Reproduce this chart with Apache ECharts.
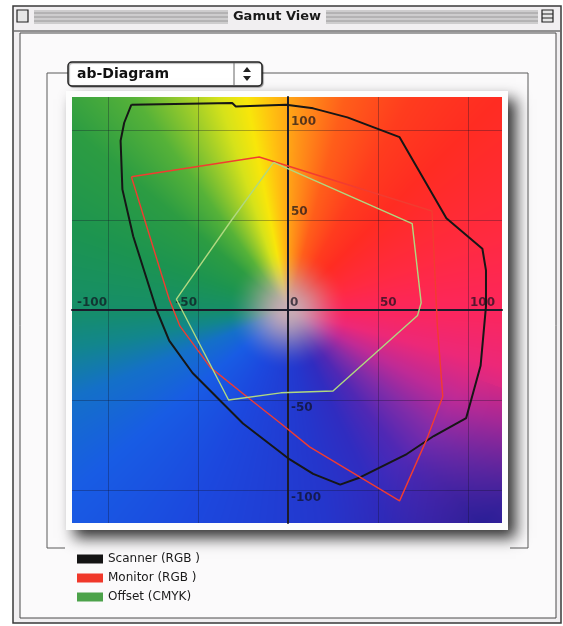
<!DOCTYPE html>
<html><head><meta charset="utf-8">
<script src="https://cdn.jsdelivr.net/npm/echarts@6/dist/echarts.min.js"></script>
<style>html,body{margin:0;padding:0;background:#fff;}#c{width:563px;height:626px;}</style>
</head><body><div id="c"></div>
<script>
// ---- data ----
const xTicks = [-100, -50, 0, 50, 100];
const yTicks = [-100, -50, 50, 100];
const gridVals = [-100, -50, 50, 100];
const seriesNames = ['Scanner (RGB )', 'Monitor (RGB )', 'Offset (CMYK)'];
const scannerPts = [[-87,114],[-31,115],[-29,113],[-1,114],[14,112],[33,107],[62,96],[88,51],[108,34],[110,22],[110,2],[107,-31],[99,-60],[81,-70],[66,-80],[40,-93],[29,-97],[14,-91],[1,-83],[-25,-63],[-53,-35],[-66,-17],[-73,0],[-86,41],[-92,67],[-93,94],[-91,104]];
const monitorPts = [[-87,74],[-16,85],[80,55],[83,-9],[86,-48],[77,-72],[62,-106],[12,-76],[-4,-63],[-23,-48],[-43,-32],[-60,-9],[-66,6]];
const offsetPts = [[-8,82],[69,48],[74,4],[72,-3],[25,-45],[-4,-46],[-33,-50],[-62,6],[-32,49]];

// ---- layout / style ----
const G = {left:72, top:97, width:430, height:426};
const XR = [-120, 118.9], YR = [-118.3, 118.3];
const FONT = "'DejaVu Sans', sans-serif";
const colors = ['#141414', '#f0382a', '#4ca24a'];
const lineColors = ['#161616', '#f23c30', '#b0d880'];

// background a-b plane image (decoration)
const hueStops = [
  [-180,[22,142,104]],[-170,[18,134,140]],[-158,[20,112,200]],[-140,[24,92,228]],[-115,[28,72,222]],
  [-95,[32,62,212]],[-80,[36,54,204]],[-65,[48,44,192]],[-52,[80,40,180]],[-40,[130,44,168]],
  [-28,[190,42,150]],[-15,[236,40,120]],[0,[252,38,92]],[20,[255,42,64]],[45,[255,44,34]],
  [60,[255,60,30]],[75,[255,94,26]],[87,[255,150,24]],[95,[255,194,16]],[101,[248,230,10]],
  [108,[214,226,26]],[116,[156,204,42]],[126,[86,178,56]],[140,[44,156,66]],[160,[28,148,80]],[180,[22,142,104]]
];
function hueColor(ang){
  for(let i=0;i<hueStops.length-1;i++){
    const [a0,c0]=hueStops[i],[a1,c1]=hueStops[i+1];
    if(ang>=a0 && ang<=a1){const t=(ang-a0)/(a1-a0);return [0,1,2].map(k=>c0[k]+(c1[k]-c0[k])*t);}
  }
  return hueStops[0][1];
}
function makeBg(){
  const cv=document.createElement('canvas');cv.width=G.width;cv.height=G.height;
  const ctx=cv.getContext('2d');const img=ctx.createImageData(G.width,G.height);
  const center=[200,172,180], navy=[42,30,150];
  for(let py=0;py<G.height;py++){
    const b=YR[1]-(py+0.5)/G.height*(YR[1]-YR[0]);
    for(let px=0;px<G.width;px++){
      const a=XR[0]+(px+0.5)/G.width*(XR[1]-XR[0]);
      const ang=Math.atan2(b,a)*180/Math.PI;
      let c=hueColor(ang);
      const r=Math.hypot(a,b);
      if(ang<-20 && ang>-80){
        const aw=1-Math.abs(ang+48)/32;
        const d=Math.max(0,Math.min(1,(r-105)/55))*Math.max(0,aw);
        c=c.map((v,k)=>v*(1-d)+navy[k]*d);
      }
      let w=Math.max(0,1-r/34);w=w*w*(3-2*w);
      const i=(py*G.width+px)*4;
      for(let k=0;k<3;k++) img.data[i+k]=Math.round(c[k]*(1-w)+center[k]*w);
      img.data[i+3]=255;
    }
  }
  ctx.putImageData(img,0,0);return cv;
}

const chart = echarts.init(document.getElementById('c'), null, {renderer:'canvas'});

// window chrome (decoration)
const g = [];
g.push({type:'rect',z:-100,shape:{x:13,y:6,width:548,height:617},style:{fill:'#f1eff1',stroke:'#3a3a3a',lineWidth:1.5}});
g.push({type:'rect',z:-99,shape:{x:20,y:33,width:536,height:585},style:{fill:'#fbfafb',stroke:'#4a4a4a',lineWidth:1}});
g.push({type:'line',z:-98,shape:{x1:14,y1:31,x2:560,y2:31},style:{stroke:'#333',lineWidth:1}});
for(let y=11;y<=24;y+=2){
  g.push({type:'line',z:-98,shape:{x1:34,y1:y,x2:228,y2:y},style:{stroke:y%4===1?'#777':'#aaa',lineWidth:1}});
  g.push({type:'line',z:-98,shape:{x1:326,y1:y,x2:538,y2:y},style:{stroke:y%4===1?'#777':'#aaa',lineWidth:1}});
}
g.push({type:'rect',z:-97,shape:{x:17,y:10,width:11,height:12},style:{fill:'#e6e6e6',stroke:'#222',lineWidth:1.2}});
g.push({type:'rect',z:-97,shape:{x:542,y:10,width:11,height:12},style:{fill:'#e6e6e6',stroke:'#222',lineWidth:1.2}});
g.push({type:'line',z:-96,shape:{x1:542,y1:14,x2:553,y2:14},style:{stroke:'#222',lineWidth:1}});
g.push({type:'line',z:-96,shape:{x1:542,y1:18,x2:553,y2:18},style:{stroke:'#222',lineWidth:1}});
g.push({type:'text',z:-96,style:{text:'Gamut View',x:277,y:17,align:'center',verticalAlign:'middle',font:"bold 13px "+FONT,fill:'#1a1a1a'}});
// group box
const gb = {stroke:'#5a5a5a',lineWidth:1,fill:null};
g.push({type:'polyline',z:-95,shape:{points:[[68,73],[47,73],[47,548],[65,548]]},style:gb});
g.push({type:'polyline',z:-95,shape:{points:[[262,73],[528,73],[528,548],[510,548]]},style:gb});
// popup
g.push({type:'rect',z:-94,shape:{x:68,y:62,width:194,height:24,r:4},style:{fill:'#fff',stroke:'#222',lineWidth:1.5,shadowColor:'rgba(0,0,0,0.35)',shadowOffsetX:1,shadowOffsetY:1,shadowBlur:1}});
g.push({type:'line',z:-93,shape:{x1:234,y1:63,x2:234,y2:85},style:{stroke:'#666',lineWidth:1}});
g.push({type:'text',z:-93,style:{text:'ab-Diagram',x:77,y:74,verticalAlign:'middle',font:"bold 14px "+FONT,fill:'#111'}});
g.push({type:'polygon',z:-93,shape:{points:[[243,72],[251,72],[247,67]]},style:{fill:'#222'}});
g.push({type:'polygon',z:-93,shape:{points:[[243,76],[251,76],[247,81]]},style:{fill:'#222'}});
// plot frame with shadow
g.push({type:'rect',z:-92,shape:{x:66,y:91,width:442,height:439},style:{fill:'#fdfdfd',shadowColor:'rgba(0,0,0,0.8)',shadowBlur:14,shadowOffsetX:8,shadowOffsetY:8}});
g.push({type:'image',z:-91,style:{image:makeBg(),x:G.left,y:G.top,width:G.width,height:G.height}});

const labelStyle = {fontFamily:FONT,fontSize:12,fontWeight:'bold',color:'rgba(16,16,28,0.88)'};
const tickData = xTicks.map(v=>({value:[v,0],label:Object.assign({show:true,formatter:String(v),position:'top',distance:1,align:v<0?'right':'left',offset:[v<0?-1:2,0]},labelStyle)}))
  .concat(yTicks.map(v=>({value:[0,v],label:Object.assign({show:true,formatter:String(v),position:v>0?'top':'bottom',distance:2,align:'left',offset:[3,0]},labelStyle)})));

const polySeries = [scannerPts, monitorPts, offsetPts].map((pts,i)=>({
  type:'line',name:seriesNames[i],data:pts.concat([pts[0]]),showSymbol:false,symbol:'none',z:6,
  lineStyle:{color:lineColors[i],width:i===0?2:1.4},itemStyle:{color:colors[i]},silent:true
}));

chart.setOption({
  animation:false,
  graphic:{elements:g},
  grid:{left:G.left,top:G.top,width:G.width,height:G.height,show:false},
  xAxis:{type:'value',min:XR[0],max:XR[1],z:4,axisLine:{onZero:true,lineStyle:{color:'#1c1c2c',width:2}},axisTick:{show:false},axisLabel:{show:false},splitLine:{show:false}},
  yAxis:{type:'value',min:YR[0],max:YR[1],z:4,axisLine:{onZero:true,lineStyle:{color:'#1c1c2c',width:2}},axisTick:{show:false},axisLabel:{show:false},splitLine:{show:false}},
  legend:{orient:'vertical',left:72,top:548,itemWidth:26,itemHeight:9,itemGap:7,icon:'rect',selectedMode:false,
    textStyle:{fontFamily:FONT,fontSize:12,color:'#1a1a1a'},
    data:seriesNames.map((n,i)=>({name:n,icon:'rect',itemStyle:{color:colors[i]}}))},
  series:[{
    type:'scatter',name:'ticks',symbolSize:0,data:tickData,z:5,silent:true,
    markLine:{silent:true,symbol:['none','none'],label:{show:false},animation:false,
      lineStyle:{color:'rgba(20,20,40,0.32)',width:1,type:'solid'},
      data:gridVals.map(v=>({xAxis:v})).concat(gridVals.map(v=>({yAxis:v})))}
  }].concat(polySeries)
});
</script></body></html>
